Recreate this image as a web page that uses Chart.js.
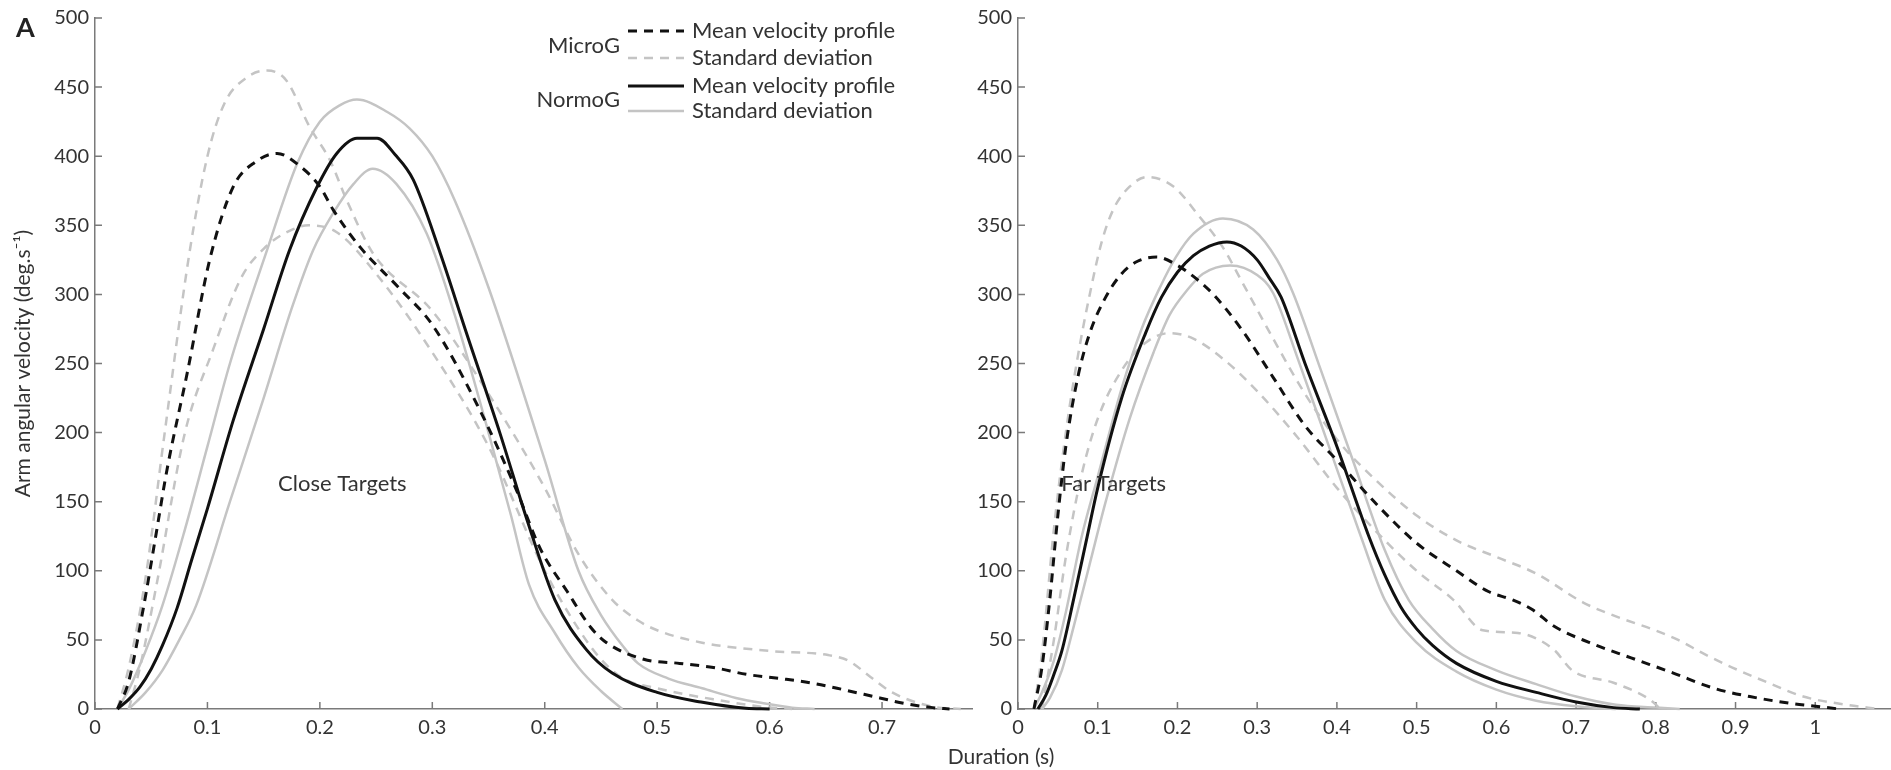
<!DOCTYPE html>
<html>
<head>
<meta charset="utf-8">
<script src="https://cdn.jsdelivr.net/npm/chart.js@4.4.1/dist/chart.umd.min.js"></script>
<style>
  html, body { margin: 0; padding: 0; background: #fff; width: 1891px; height: 770px; overflow: hidden; }
  .panel { position: absolute; top: 0; height: 770px; }
  #leftBox { left: 0; width: 985px; }
  #rightBox { left: 965px; width: 926px; }
  #panelTag { position: absolute; left: 16px; top: 10px; font: bold 27px Lato, sans-serif; color: #222; }
  #xTitle { position: absolute; left: 901px; width: 200px; top: 743px; text-align: center; font: 21px Lato, sans-serif; color: #333; }
</style>
</head>
<body>
<div id="leftBox" class="panel"><canvas id="closeChart"></canvas></div>
<div id="rightBox" class="panel"><canvas id="farChart"></canvas></div>
<div id="panelTag">A</div>
<div id="xTitle">Duration (s)</div>
<script>
// tick labels
const yTicks = [0, 50, 100, 150, 200, 250, 300, 350, 400, 450, 500];
const closeXTicks = [0, 0.1, 0.2, 0.3, 0.4, 0.5, 0.6, 0.7];
const farXTicks = [0, 0.1, 0.2, 0.3, 0.4, 0.5, 0.6, 0.7, 0.8, 0.9, 1];

// Close targets: [duration (s), velocity (deg/s)]
const closeMicroMean = [[0.02,0],[0.03,20],[0.043,73],[0.054,125],[0.064,173],[0.082,243],[0.102,325],[0.123,378],[0.143,396],[0.162,402],[0.182,393],[0.2,378],[0.212,361],[0.236,334],[0.27,305],[0.3,278],[0.34,220],[0.374,160],[0.396,116],[0.42,85],[0.441,59],[0.455,48],[0.488,36],[0.52,33],[0.55,30],[0.58,25],[0.61,22],[0.636,19],[0.66,15],[0.698,8],[0.72,4],[0.745,1],[0.76,0]];
const closeMicroSdHigh = [[0.02,0],[0.03,30],[0.045,95],[0.062,200],[0.084,330],[0.1,400],[0.115,438],[0.135,457],[0.153,462],[0.17,455],[0.191,421],[0.209,397],[0.224,368],[0.247,330],[0.3,288],[0.35,228],[0.4,160],[0.43,112],[0.46,79],[0.483,64],[0.5,57],[0.54,48],[0.6,42],[0.652,39],[0.67,35],[0.69,23],[0.709,12],[0.743,2],[0.77,0]];
const closeMicroSdLow = [[0.03,0],[0.04,30],[0.055,91],[0.08,200],[0.105,260],[0.13,312],[0.15,333],[0.173,346],[0.19,350],[0.215,345],[0.25,315],[0.3,258],[0.35,190],[0.4,100],[0.43,58],[0.45,36],[0.47,22],[0.5,15],[0.55,7],[0.6,1],[0.62,0]];
const closeNormoMean = [[0.02,0],[0.03,7],[0.04,16],[0.05,29],[0.06,46],[0.073,73],[0.086,108],[0.1,145],[0.123,209],[0.15,275],[0.173,332],[0.197,377],[0.215,402],[0.233,413],[0.251,413],[0.267,401],[0.283,383],[0.307,330],[0.33,273],[0.36,200],[0.385,135],[0.409,79],[0.437,43],[0.46,26],[0.5,12],[0.539,5],[0.579,0.5],[0.6,0]];
const closeNormoSdHigh = [[0.02,0],[0.03,14],[0.045,42],[0.06,75],[0.08,130],[0.1,190],[0.12,250],[0.153,332],[0.18,395],[0.2,425],[0.218,437],[0.233,441],[0.26,432],[0.28,420],[0.3,400],[0.32,368],[0.35,305],[0.4,180],[0.43,100],[0.45,68],[0.47,45],[0.483,33],[0.51,22],[0.54,15],[0.57,8],[0.596,4],[0.62,1],[0.64,0]];
const closeNormoSdLow = [[0.03,0],[0.045,12],[0.06,28],[0.075,50],[0.09,75],[0.12,150],[0.15,225],[0.175,290],[0.194,332],[0.212,359],[0.23,380],[0.247,391],[0.268,380],[0.295,344],[0.32,285],[0.35,200],[0.37,140],[0.386,90],[0.409,55],[0.43,30],[0.45,13],[0.469,0]];

// Far targets
const farMicroMean = [[0.02,0],[0.03,30],[0.04,80],[0.05,140],[0.06,190],[0.075,240],[0.09,272],[0.11,298],[0.13,315],[0.15,324],[0.174,327],[0.2,321],[0.22,313],[0.245,300],[0.28,275],[0.32,240],[0.36,205],[0.4,180],[0.45,148],[0.5,120],[0.55,100],[0.59,85],[0.62,79],[0.645,72],[0.672,60],[0.717,48],[0.769,37],[0.822,26],[0.873,15],[0.918,9],[0.97,4],[1.0,2],[1.03,0]];
const farMicroSdHigh = [[0.02,0],[0.03,40],[0.045,130],[0.06,200],[0.075,255],[0.09,300],[0.105,338],[0.12,362],[0.14,378],[0.162,385],[0.195,378],[0.228,356],[0.257,334],[0.282,308],[0.32,268],[0.36,228],[0.4,195],[0.45,165],[0.5,140],[0.55,122],[0.6,110],[0.65,98],[0.709,77],[0.75,67],[0.799,57],[0.828,50],[0.86,40],[0.896,30],[0.941,19],[0.985,9],[1.04,3],[1.08,0]];
const farMicroSdLow = [[0.03,0],[0.045,50],[0.06,110],[0.08,170],[0.1,210],[0.13,245],[0.16,265],[0.19,272],[0.22,268],[0.26,252],[0.3,230],[0.35,197],[0.4,160],[0.45,128],[0.5,100],[0.546,79],[0.583,57],[0.627,55],[0.672,43],[0.695,28],[0.747,19],[0.792,7],[0.806,0]];
const farNormoMean = [[0.025,0],[0.035,10],[0.045,25],[0.055,42],[0.07,80],[0.085,120],[0.1,160],[0.13,225],[0.16,272],[0.18,298],[0.2,316],[0.22,328],[0.24,335],[0.262,338],[0.28,335],[0.3,325],[0.315,312],[0.33,298],[0.36,250],[0.4,190],[0.44,125],[0.46,97],[0.48,74],[0.5,58],[0.52,46],[0.55,33],[0.6,20],[0.65,12],[0.7,5],[0.747,1],[0.78,0]];
const farNormoSdHigh = [[0.02,0],[0.03,12],[0.045,35],[0.06,70],[0.08,125],[0.1,168],[0.13,232],[0.155,275],[0.178,305],[0.198,327],[0.22,344],[0.257,355],[0.295,347],[0.325,325],[0.345,301],[0.38,245],[0.42,180],[0.46,115],[0.49,79],[0.52,58],[0.55,42],[0.6,28],[0.65,18],[0.7,9],[0.75,3],[0.8,1],[0.83,0]];
const farNormoSdLow = [[0.03,0],[0.04,8],[0.055,28],[0.07,60],[0.09,105],[0.11,150],[0.14,210],[0.17,258],[0.19,285],[0.212,303],[0.232,315],[0.266,321],[0.3,314],[0.32,301],[0.35,255],[0.39,190],[0.43,125],[0.46,79],[0.5,48],[0.55,27],[0.6,14],[0.65,6],[0.7,2],[0.75,0]];

const black = '#111111';
const grey = '#c4c4c4';
const axisColor = '#7a7a7a';
const textColor = '#333333';
const FONT = 'Lato, sans-serif';

function line(points, color, width, dash) {
    return {
        data: points.map(p => ({ x: p[0], y: p[1] })),
        borderColor: color,
        borderWidth: width,
        borderDash: dash,
        pointRadius: 0,
        fill: false,
        cubicInterpolationMode: 'monotone',
        clip: false
    };
}

// ticks point into the plot area, like the original
const inwardTicks = {
    id: 'inwardTicks',
    beforeDatasetsDraw(chart) {
        const { ctx, chartArea, scales } = chart;
        ctx.save();
        ctx.strokeStyle = axisColor;
        ctx.lineWidth = 1.5;
        ctx.beginPath();
        scales.x.ticks.forEach(t => {
            const px = scales.x.getPixelForValue(t.value);
            ctx.moveTo(px, chartArea.bottom);
            ctx.lineTo(px, chartArea.bottom - 7);
        });
        scales.y.ticks.forEach(t => {
            const py = scales.y.getPixelForValue(t.value);
            ctx.moveTo(chartArea.left, py);
            ctx.lineTo(chartArea.left + 7, py);
        });
        ctx.stroke();
        ctx.restore();
    }
};

// text placed in data coordinates
const plotNote = {
    id: 'plotNote',
    afterDatasetsDraw(chart, args, opts) {
        const { ctx, scales } = chart;
        ctx.save();
        ctx.font = '22px ' + FONT;
        ctx.fillStyle = textColor;
        ctx.textAlign = 'center';
        ctx.textBaseline = 'middle';
        ctx.fillText(opts.text, scales.x.getPixelForValue(opts.x), scales.y.getPixelForValue(opts.y));
        ctx.restore();
    }
};

// grouped legend (MicroG / NormoG)
const groupLegend = {
    id: 'groupLegend',
    afterDraw(chart, args, opts) {
        if (!opts.show) return;
        const ctx = chart.ctx;
        const rows = [
            { y: 31, color: black, width: 3, dash: [9, 7], label: 'Mean velocity profile' },
            { y: 58, color: grey, width: 2.5, dash: [9, 7], label: 'Standard deviation' },
            { y: 86, color: black, width: 3, dash: [], label: 'Mean velocity profile' },
            { y: 111, color: grey, width: 2.5, dash: [], label: 'Standard deviation' }
        ];
        ctx.save();
        ctx.font = '22px ' + FONT;
        ctx.fillStyle = textColor;
        ctx.textBaseline = 'middle';
        ctx.textAlign = 'right';
        ctx.fillText('MicroG', 620, 46);
        ctx.fillText('NormoG', 620, 100);
        ctx.textAlign = 'left';
        rows.forEach(r => {
            ctx.beginPath();
            ctx.strokeStyle = r.color;
            ctx.lineWidth = r.width;
            ctx.setLineDash(r.dash);
            ctx.moveTo(628, r.y);
            ctx.lineTo(684, r.y);
            ctx.stroke();
            ctx.fillText(r.label, 692, r.y);
        });
        ctx.restore();
    }
};

function fmt(v) {
    return String(+v.toFixed(2));
}

function makeChart(id, cfg) {
    const datasets = [
        line(cfg.microMean, black, 3, [9, 7]),
        line(cfg.normoMean, black, 3, []),
        line(cfg.microHigh, grey, 2.5, [9, 7]),
        line(cfg.microLow, grey, 2.5, [9, 7]),
        line(cfg.normoHigh, grey, 2.5, []),
        line(cfg.normoLow, grey, 2.5, [])
    ];
    return new Chart(document.getElementById(id), {
        type: 'line',
        data: { datasets: datasets },
        options: {
            responsive: true,
            maintainAspectRatio: false,
            animation: false,
            layout: { padding: { top: 18, right: cfg.padRight, bottom: 0, left: 0 } },
            plugins: {
                legend: { display: false },
                tooltip: { enabled: false },
                plotNote: cfg.note,
                groupLegend: { show: cfg.legend }
            },
            scales: {
                x: {
                    type: 'linear',
                    min: 0,
                    max: cfg.xMax,
                    grid: { drawOnChartArea: false, drawTicks: false },
                    border: { color: axisColor, width: 1.5 },
                    ticks: { font: { family: FONT, size: 20 }, color: textColor, padding: 7, callback: v => fmt(v) },
                    afterBuildTicks: s => { s.ticks = cfg.xTicks.map(v => ({ value: v })); },
                    afterFit: s => { s.height = 61; }
                },
                y: {
                    min: 0,
                    max: 500,
                    grid: { drawOnChartArea: false, drawTicks: false },
                    border: { color: axisColor, width: 1.5 },
                    ticks: { font: { family: FONT, size: 20 }, color: textColor, padding: 6 },
                    title: {
                        display: cfg.yTitle,
                        text: 'Arm angular velocity (deg.s⁻¹)',
                        font: { family: FONT, size: 21 },
                        color: textColor,
                        padding: { top: 11, bottom: 0 }
                    },
                    afterBuildTicks: s => { s.ticks = yTicks.map(v => ({ value: v })); },
                    afterFit: s => { s.width = cfg.yWidth; }
                }
            }
        },
        plugins: [inwardTicks, plotNote, groupLegend]
    });
}

makeChart('closeChart', {
    microMean: closeMicroMean, microHigh: closeMicroSdHigh, microLow: closeMicroSdLow,
    normoMean: closeNormoMean, normoHigh: closeNormoSdHigh, normoLow: closeNormoSdLow,
    xMax: 0.78, xTicks: closeXTicks, yWidth: 95, padRight: 13, yTitle: true, legend: true,
    note: { text: 'Close Targets', x: 0.22, y: 163 }
});

makeChart('farChart', {
    microMean: farMicroMean, microHigh: farMicroSdHigh, microLow: farMicroSdLow,
    normoMean: farNormoMean, normoHigh: farNormoSdHigh, normoLow: farNormoSdLow,
    xMax: 1.095, xTicks: farXTicks, yWidth: 53, padRight: 0, yTitle: false, legend: false,
    note: { text: 'Far Targets', x: 0.12, y: 163 }
});
</script>
</body>
</html>
